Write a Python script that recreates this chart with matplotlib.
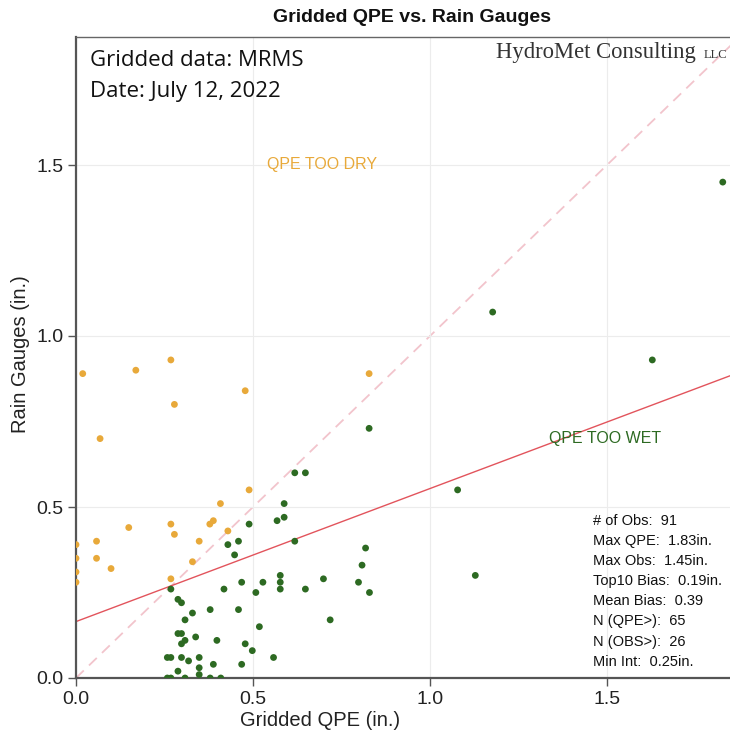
import numpy as np
import matplotlib
matplotlib.use("Agg")
import matplotlib.pyplot as plt

# --------------------------------------------------
# Data (inches)
# --------------------------------------------------
# gauges wetter than QPE ("QPE TOO DRY")
dry_qpe = [0.019, 0.169, 0.268, 0.278, 0.478, 0.828, 0.068, 0.489, 0.408, 0.268,
           0.149, 0.378, 0.388, 0.278, 0.429, 0.058, 0.348, 0.0, 0.058, 0.099,
           0.329, 0.0, 0.0, 0.0, 0.268]
dry_obs = [0.89, 0.90, 0.93, 0.80, 0.84, 0.89, 0.70, 0.55, 0.51, 0.45,
           0.44, 0.45, 0.46, 0.42, 0.43, 0.40, 0.40, 0.39, 0.35, 0.32,
           0.34, 0.35, 0.31, 0.28, 0.29]

# QPE wetter than gauges ("QPE TOO WET")
wet_qpe = [0.828, 0.618, 0.648, 0.588, 0.588, 0.568, 0.489, 0.429, 0.459, 0.448,
           0.618, 0.818, 0.808, 0.798, 0.829, 0.699, 0.648, 0.577, 0.577, 0.577,
           0.528, 0.508, 0.468, 0.418, 0.268, 0.288, 0.298, 0.329, 0.308, 0.379,
           0.459, 0.518, 0.718, 0.288, 0.298, 0.308, 0.298, 0.338, 0.398, 0.478,
           0.498, 0.558, 0.258, 0.268, 0.298, 0.318, 0.348, 0.388, 0.468, 0.288,
           0.348, 0.348, 0.258, 0.268, 0.308, 0.379, 0.409,
           1.827, 1.177, 1.628, 1.078, 1.128]
wet_obs = [0.73, 0.60, 0.60, 0.51, 0.47, 0.46, 0.45, 0.39, 0.40, 0.36,
           0.40, 0.38, 0.33, 0.28, 0.25, 0.29, 0.26, 0.30, 0.28, 0.26,
           0.28, 0.25, 0.28, 0.26, 0.26, 0.23, 0.22, 0.19, 0.17, 0.20,
           0.20, 0.15, 0.17, 0.13, 0.13, 0.11, 0.10, 0.12, 0.11, 0.10,
           0.08, 0.06, 0.06, 0.06, 0.06, 0.05, 0.06, 0.04, 0.04, 0.02,
           0.03, 0.01, 0.0, 0.0, 0.0, 0.0, 0.0,
           1.45, 1.07, 0.93, 0.55, 0.30]

# linear fit shown on the chart
fit_intercept = 0.165
fit_slope = 0.389

stats_lines = [
    "# of Obs:  91",
    "Max QPE:  1.83in.",
    "Max Obs:  1.45in.",
    "Top10 Bias:  0.19in.",
    "Mean Bias:  0.39",
    "N (QPE>):  65",
    "N (OBS>):  26",
    "Min Int:  0.25in.",
]

ticks = [0.0, 0.5, 1.0, 1.5]

ORANGE = "#e8a93a"
GREEN = "#2d6a22"

plt.rcParams["font.family"] = ["Liberation Sans", "DejaVu Sans"]

# --------------------------------------------------
# Figure
# --------------------------------------------------
W, H = 730, 736
fig = plt.figure(figsize=(W / 100, H / 100), dpi=100)

# axes run past the right edge, as in the original crop
left_px, bottom_px, top_px = 76, 678, 37
x_per_unit, y_per_unit = 354, 342
xmax, ymax = 1.9, (bottom_px - top_px) / y_per_unit
ax_w_px = xmax * x_per_unit
ax = fig.add_axes([left_px / W, (H - bottom_px) / H,
                   ax_w_px / W, (bottom_px - top_px) / H])
ax.set_xlim(0, xmax)
ax.set_ylim(0, ymax)

ax.grid(True, color="#ececec", linewidth=0.8, zorder=0)
ax.set_xticks(ticks)
ax.set_yticks(ticks)
ax.tick_params(direction="out", length=6, width=1, color="#555555",
               labelsize=14, labelcolor="#222222", pad=3)
for side in ["left", "bottom"]:
    ax.spines[side].set_color("#555555")
    ax.spines[side].set_linewidth(1.6)
ax.spines["top"].set_color("#666666")
ax.spines["top"].set_linewidth(1.0)
ax.spines["right"].set_visible(False)

# 1:1 line and fit line
line_x = np.array([0, xmax])
ax.plot(line_x, line_x, color="#f2c4cc", linestyle=(0, (6, 4)), linewidth=1.3, zorder=1)
ax.plot(line_x, fit_intercept + fit_slope * line_x, color="#e2545c", linewidth=1.0, zorder=2)

ax.scatter(dry_qpe, dry_obs, s=24, color=ORANGE, edgecolors="none", zorder=3)
ax.scatter(wet_qpe, wet_obs, s=24, color=GREEN, edgecolors="none", zorder=3)

ax.text(0.54, 1.5, "QPE TOO DRY", color=ORANGE, fontsize=11.5, va="center", ha="left")
ax.text(1.335, 0.70, "QPE TOO WET", color=GREEN, fontsize=11.5, va="center", ha="left")

ax.set_xlabel("Gridded QPE (in.)", fontsize=14.5, color="#222222")
ax.set_ylabel("Rain Gauges (in.)", fontsize=14.5, color="#222222")
ax.xaxis.set_label_coords(244 / ax_w_px, -0.051)
ax.yaxis.set_label_coords(-46 / ax_w_px, 0.505)

fig.text(412 / W, 1 - 18 / H, "Gridded QPE vs. Rain Gauges", fontsize=14,
         fontweight="bold", ha="center", va="center", color="#111111")

# annotations in upper left
fig.text(90 / W, 1 - 60 / H, "Gridded data: MRMS", fontsize=16,
         family=["Open Sans", "DejaVu Sans"], ha="left", va="center", color="#111111")
fig.text(90 / W, 1 - 92 / H, "Date: July 12, 2022", fontsize=16,
         family=["Open Sans", "DejaVu Sans"], ha="left", va="center", color="#111111")

# company name
fig.text(496 / W, 1 - 58 / H, "HydroMet Consulting", fontsize=16.3,
         family=["Liberation Serif", "DejaVu Serif"], ha="left", va="baseline", color="#333333")
fig.text(704 / W, 1 - 58 / H, "LLC", fontsize=9,
         family=["Liberation Serif", "DejaVu Serif"], ha="left", va="baseline", color="#333333")

# stats block
for i, line in enumerate(stats_lines):
    fig.text(593 / W, 1 - (521 + i * 20.1) / H, line, fontsize=10.5,
             ha="left", va="center", color="#111111")

fig.savefig("out.png", dpi=100)
